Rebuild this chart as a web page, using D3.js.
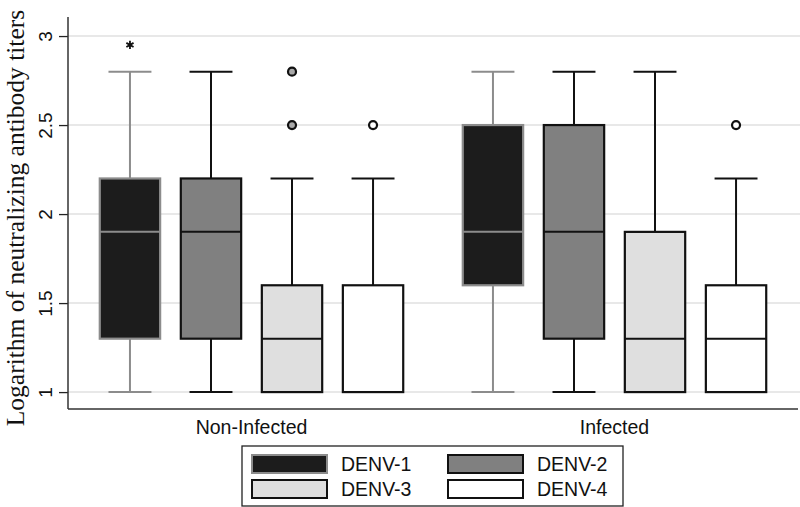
<!DOCTYPE html>
<html>
<head>
<meta charset="utf-8">
<script src="https://cdn.jsdelivr.net/npm/d3@7"></script>
<style>
  html, body { margin: 0; padding: 0; background: #fff; }
  svg { display: block; }
</style>
</head>
<body>
<script>
// ---- data ----
const groups = ["Non-Infected", "Infected"];
const series = ["DENV-1", "DENV-2", "DENV-3", "DENV-4"];
const whiskerLow  = [[1.0, 1.0, 1.0, 1.0], [1.0, 1.0, 1.0, 1.0]];
const q1          = [[1.3, 1.3, 1.0, 1.0], [1.6, 1.3, 1.0, 1.0]];
const median      = [[1.9, 1.9, 1.3, 1.0], [1.9, 1.9, 1.3, 1.3]];
const q3          = [[2.2, 2.2, 1.6, 1.6], [2.5, 2.5, 1.9, 1.6]];
const whiskerHigh = [[2.8, 2.8, 2.2, 2.2], [2.8, 2.8, 2.8, 2.2]];
const outliers    = [[[], [], [2.8, 2.5], [2.5]], [[], [], [], [2.5]]];
const starPoints  = [[[2.95], [], [], []], [[], [], [], []]];
const yTicks = [1, 1.5, 2, 2.5, 3];
const yTickLabels = ["1", "1.5", "2", "2.5", "3"];
const yTitle = "Logarithm of neutralizing antibody titers";

// ---- styles ----
const fills   = ["#1c1c1c", "#808080", "#dfdfdf", "#ffffff"];
const strokes = ["#8c8c8c", "#111111", "#111111", "#111111"];
const outlierFills = ["#1c1c1c", "#808080", "#a9a9a9", "#ffffff"];

const W = 800, H = 507;
const svg = d3.select("body").append("svg").attr("width", W).attr("height", H);

const plot = { left: 68, right: 798, top: 17, bottom: 409 };

const y = d3.scaleLinear().domain([0.905, 3.107]).range([plot.bottom, plot.top]);
const xg = d3.scaleBand().domain(groups).range([70, 796]).paddingInner(0).paddingOuter(0);
const xs = d3.scaleBand().domain(series).range([0, xg.bandwidth()]).paddingInner(0).paddingOuter(0.24);
const boxW = xs.bandwidth() * 0.745;
const capW = xs.bandwidth() * 0.53;

// grid
svg.append("g").selectAll("line").data(yTicks).join("line")
  .attr("x1", plot.left).attr("x2", W)
  .attr("y1", d => y(d)).attr("y2", d => y(d))
  .attr("stroke", "#e8e8e8").attr("stroke-width", 2);

// y axis
const yAxis = d3.axisLeft(y).tickValues(yTicks).tickSize(9)
  .tickFormat((d, i) => yTickLabels[i]);
const ga = svg.append("g").attr("transform", `translate(${plot.left},0)`).call(yAxis);
ga.select(".domain").remove();
ga.selectAll(".tick line").attr("stroke", "#222").attr("stroke-width", 1.3);
ga.selectAll(".tick text")
  .attr("x", null).attr("dy", null)
  .attr("transform", "translate(-16,0) rotate(-90)")
  .attr("text-anchor", "middle")
  .attr("font-family", "'Liberation Sans', Arial, sans-serif")
  .attr("font-size", 19)
  .attr("fill", "#111");

// axis lines
svg.append("line").attr("x1", plot.left).attr("x2", plot.left)
  .attr("y1", plot.top).attr("y2", plot.bottom)
  .attr("stroke", "#333").attr("stroke-width", 1.5);
svg.append("line").attr("x1", plot.left).attr("x2", plot.right)
  .attr("y1", plot.bottom).attr("y2", plot.bottom)
  .attr("stroke", "#333").attr("stroke-width", 1.5);

// y title
svg.append("text")
  .attr("transform", `translate(23.5,218) rotate(-90)`)
  .attr("text-anchor", "middle")
  .attr("font-family", "'Liberation Serif', 'Times New Roman', serif")
  .attr("font-size", 25.5)
  .attr("fill", "#111")
  .text(yTitle);

// boxes
groups.forEach((g, gi) => {
  series.forEach((s, si) => {
    const cx = xg(g) + xs(s) + xs.bandwidth() / 2;
    const st = strokes[si];
    const bg = svg.append("g");
    // whiskers
    if (whiskerHigh[gi][si] > q3[gi][si]) {
      bg.append("line").attr("x1", cx).attr("x2", cx)
        .attr("y1", y(q3[gi][si])).attr("y2", y(whiskerHigh[gi][si]))
        .attr("stroke", st).attr("stroke-width", 2);
    }
    bg.append("line").attr("x1", cx - capW / 2).attr("x2", cx + capW / 2)
      .attr("y1", y(whiskerHigh[gi][si])).attr("y2", y(whiskerHigh[gi][si]))
      .attr("stroke", st).attr("stroke-width", 2);
    if (whiskerLow[gi][si] < q1[gi][si]) {
      bg.append("line").attr("x1", cx).attr("x2", cx)
        .attr("y1", y(q1[gi][si])).attr("y2", y(whiskerLow[gi][si]))
        .attr("stroke", st).attr("stroke-width", 2);
      bg.append("line").attr("x1", cx - capW / 2).attr("x2", cx + capW / 2)
        .attr("y1", y(whiskerLow[gi][si])).attr("y2", y(whiskerLow[gi][si]))
        .attr("stroke", st).attr("stroke-width", 2);
    }
    // box
    bg.append("rect")
      .attr("x", cx - boxW / 2).attr("width", boxW)
      .attr("y", y(q3[gi][si])).attr("height", y(q1[gi][si]) - y(q3[gi][si]))
      .attr("fill", fills[si]).attr("stroke", st).attr("stroke-width", 2.2);
    // median
    bg.append("line").attr("x1", cx - boxW / 2).attr("x2", cx + boxW / 2)
      .attr("y1", y(median[gi][si])).attr("y2", y(median[gi][si]))
      .attr("stroke", st).attr("stroke-width", 2);
    // outliers
    bg.selectAll("circle.o").data(outliers[gi][si]).join("circle")
      .attr("class", "o")
      .attr("cx", cx).attr("cy", d => y(d)).attr("r", 4)
      .attr("fill", outlierFills[si]).attr("stroke", "#111").attr("stroke-width", 2.2);
    bg.selectAll("path.star").data(starPoints[gi][si]).join("path")
      .attr("class", "star")
      .attr("transform", d => `translate(${cx},${y(d)})`)
      .attr("d", d3.symbol(d3.symbolAsterisk, 48)())
      .attr("fill", "none").attr("stroke", "#111").attr("stroke-width", 1.8);
  });
});

// group labels
svg.append("g").selectAll("text").data(groups).join("text")
  .attr("x", d => xg(d) + xg.bandwidth() / 2)
  .attr("y", 434)
  .attr("text-anchor", "middle")
  .attr("font-family", "'Liberation Sans', Arial, sans-serif")
  .attr("font-size", 19.5)
  .attr("fill", "#111")
  .text(d => d);

// legend
const lg = svg.append("g");
lg.append("rect").attr("x", 242).attr("y", 446).attr("width", 381).attr("height", 60)
  .attr("fill", "#fff").attr("stroke", "#222").attr("stroke-width", 1.3);
const legPos = series.map((s, i) => ({ s, i, col: i % 2, row: Math.floor(i / 2) }));
const lItems = lg.selectAll("g.item").data(legPos).join("g")
  .attr("class", "item")
  .attr("transform", d => `translate(${252 + d.col * 196},${455 + d.row * 25})`);
lItems.append("rect").attr("width", 75).attr("height", 18)
  .attr("fill", d => fills[d.i]).attr("stroke", d => strokes[d.i]).attr("stroke-width", 2);
lItems.append("text").attr("x", 89).attr("y", 16)
  .attr("font-family", "'Liberation Sans', Arial, sans-serif")
  .attr("font-size", 19.5)
  .attr("fill", "#111")
  .text(d => d.s);
</script>
</body>
</html>
